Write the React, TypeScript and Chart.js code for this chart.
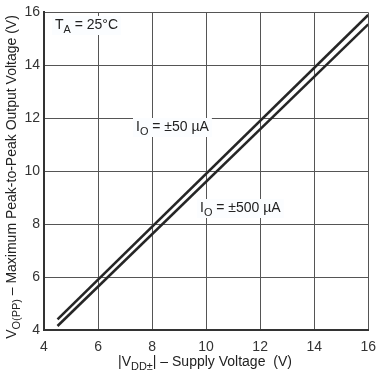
import React, { useEffect, useRef } from "react";
import { Chart, registerables } from "chart.js";

Chart.register(...registerables);

const supplyLow = [4.5, 16];
const vo50uA = [4.4, 15.9];
const vo500uA = [4.15, 15.55];
const xTicks = [4, 6, 8, 10, 12, 14, 16];
const yTicks = [4, 6, 8, 10, 12, 14, 16];

const FONT = "'Liberation Sans', Arial, sans-serif";

type Seg = { t: string; sub?: boolean };

function segWidth(ctx: CanvasRenderingContext2D, segs: Seg[], size: number) {
  let w = 0;
  for (const s of segs) {
    ctx.font = `${s.sub ? size * 0.78 : size}px ${FONT}`;
    w += ctx.measureText(s.t).width;
  }
  return w;
}

function drawRich(ctx: CanvasRenderingContext2D, segs: Seg[], x: number, y: number, size: number) {
  let cx = x;
  ctx.textBaseline = "alphabetic";
  ctx.textAlign = "left";
  for (const s of segs) {
    const sz = s.sub ? size * 0.78 : size;
    ctx.font = `${sz}px ${FONT}`;
    ctx.fillText(s.t, cx, y + (s.sub ? size * 0.3 : 0));
    cx += ctx.measureText(s.t).width;
  }
}

const textPlugin = {
  id: "richText",
  afterDatasetsDraw(chart: any) {
    const ctx: CanvasRenderingContext2D = chart.ctx;
    ctx.save();
    ctx.fillStyle = "#222";
    const labels: { segs: Seg[]; px: number; py: number }[] = [
      { segs: [{ t: "T" }, { t: "A", sub: true }, { t: " = 25°C" }], px: 55, py: 29 },
      { segs: [{ t: "I" }, { t: "O", sub: true }, { t: " = ±50 µA" }], px: 136, py: 131 },
      { segs: [{ t: "I" }, { t: "O", sub: true }, { t: " = ±500 µA" }], px: 200, py: 212 },
    ];
    for (const l of labels) {
      const w = segWidth(ctx, l.segs, 14);
      ctx.fillStyle = "#fbfdff";
      ctx.fillRect(l.px - 3, l.py - 13, w + 6, 19);
      ctx.fillStyle = "#222";
      drawRich(ctx, l.segs, l.px, l.py, 14);
    }
    // x title
    const xt: Seg[] = [{ t: "|V" }, { t: "DD±", sub: true }, { t: "| – Supply Voltage  (V)" }];
    const xw = segWidth(ctx, xt, 14);
    drawRich(ctx, xt, 205 - xw / 2, 366, 14);
    // y title
    const yt: Seg[] = [{ t: "V" }, { t: "O(PP)", sub: true }, { t: " – Maximum Peak-to-Peak Output Voltage (V)" }];
    const yw = segWidth(ctx, yt, 14);
    ctx.translate(16, 177);
    ctx.rotate(-Math.PI / 2);
    drawRich(ctx, yt, -yw / 2, 0, 14);
    ctx.restore();
  },
};

export default function App() {
  const ref = useRef<HTMLCanvasElement>(null);
  useEffect(() => {
    if (!ref.current) return;
    const mk = (ys: number[]) => supplyLow.map((v, i) => ({ x: v, y: ys[i] }));
    const chart = new Chart(ref.current, {
      type: "line",
      data: {
        datasets: [
          { data: mk(vo50uA), borderColor: "#262626", borderWidth: 2.6, pointRadius: 0, fill: false },
          { data: mk(vo500uA), borderColor: "#262626", borderWidth: 2.6, pointRadius: 0, fill: false },
        ],
      },
      options: {
        animation: false,
        responsive: false,
        devicePixelRatio: 1,
        layout: { padding: { left: 0, right: 12, top: 5, bottom: 0 } },
        plugins: { legend: { display: false }, tooltip: { enabled: false } },
        scales: {
          x: {
            type: "linear",
            min: 4,
            max: 16,
            afterFit: (s: any) => { s.height = 41; },
            afterBuildTicks: (s: any) => { s.ticks = xTicks.map((v) => ({ value: v })); },
            grid: { color: "#555", lineWidth: 1, drawTicks: false },
            border: { color: "#333", width: 2 },
            ticks: { padding: 9, color: "#333", font: { family: FONT, size: 14 }, maxRotation: 0 },
          },
          y: {
            type: "linear",
            min: 4,
            max: 16,
            afterFit: (s: any) => { s.width = 44; },
            afterBuildTicks: (s: any) => { s.ticks = yTicks.map((v) => ({ value: v })); },
            grid: { color: "#555", lineWidth: 1, drawTicks: false },
            border: { color: "#333", width: 2 },
            ticks: { padding: 4, color: "#333", font: { family: FONT, size: 14 } },
          },
        },
      },
      plugins: [textPlugin],
    });
    return () => chart.destroy();
  }, []);
  return (
    <div style={{ position: "fixed", left: 0, top: 0, width: 385, height: 371, background: "#fff" }}>
      <canvas ref={ref} width={385} height={371} style={{ display: "block" }} />
    </div>
  );
}
